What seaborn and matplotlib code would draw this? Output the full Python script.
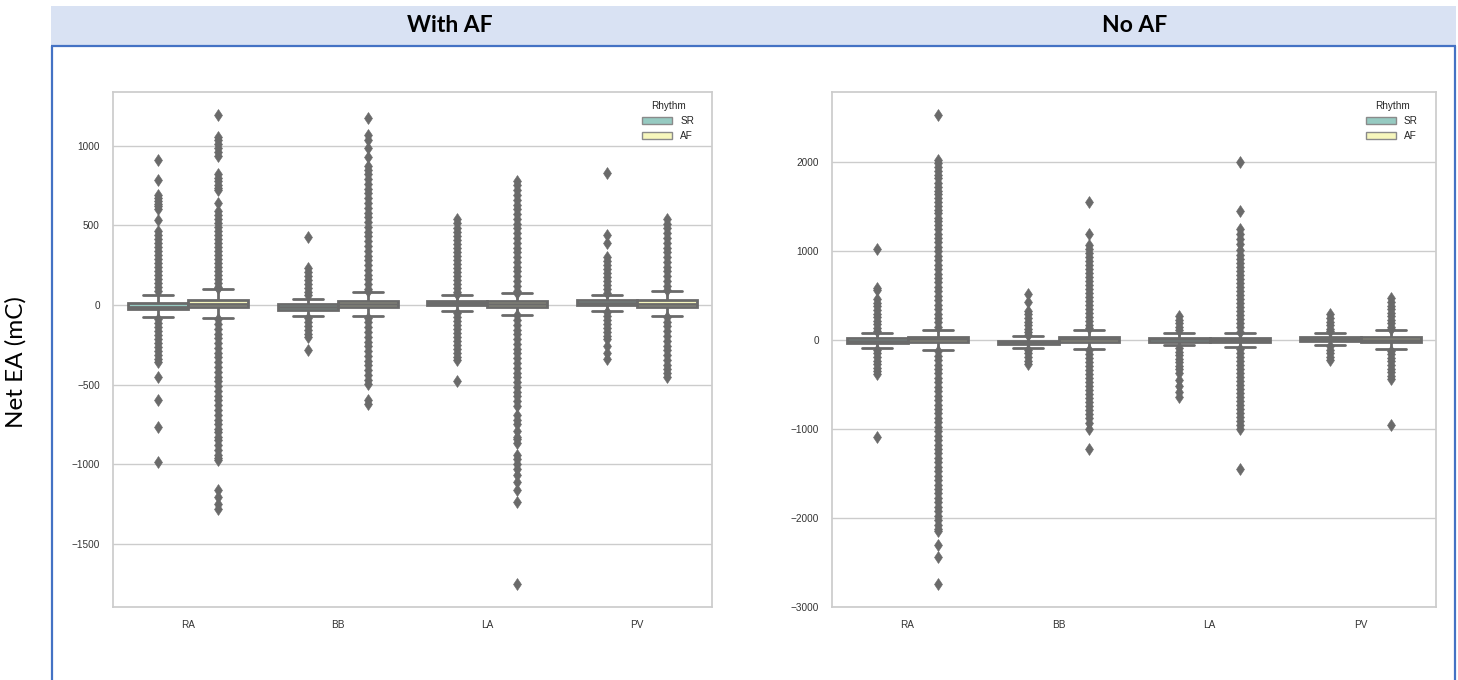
import numpy as np
import pandas as pd
import matplotlib
matplotlib.use("Agg")
import matplotlib.pyplot as plt
from matplotlib.patches import Rectangle
from matplotlib.lines import Line2D
import seaborn as sns

# ---------------------------------------------------------------- data
SITES = ["RA", "BB", "LA", "PV"]
RHYTHMS = ["SR", "AF"]
PANELS = ["With AF", "No AF"]

# Box summary per site (RA, BB, LA, PV): [lower whisker, Q1, median, Q3, upper whisker]
WITH_AF_SR_BOX = [[-75, -25, -12, 15, 65], [-70, -30, -12, 5, 40],
                  [-40, -3, 10, 25, 65], [-38, 2, 15, 30, 65]]
WITH_AF_AF_BOX = [[-84, -16, 6, 31, 100], [-72, -15, 3, 25, 80],
                  [-62, -12, 5, 22, 72], [-70, -12, 8, 30, 88]]
NO_AF_SR_BOX = [[-85, -30, -8, 22, 80], [-85, -45, -25, -5, 45],
                [-55, -15, 8, 30, 80], [-55, -5, 15, 35, 85]]
NO_AF_AF_BOX = [[-110, -25, 8, 40, 120], [-95, -20, 10, 40, 115],
                [-80, -25, 0, 20, 85], [-95, -25, 5, 35, 110]]

# Outlying observations (mC) per site
WITH_AF_SR_FLIERS = [
    [910, 785, 690, 672, 655, 635, 618, 600, 535, 462, 440, 415, 390, 365, 340,
     315, 290, 265, 240, 215, 190, 165, 140, 115, 90,
     -90, -115, -140, -165, -190, -215, -240, -265, -290, -315, -340, -360,
     -450, -595, -765, -985],
    [425, 230, 205, 180, 155, 130, 105, 80, 62,
     -85, -110, -135, -160, -180, -200, -280],
    [540, 512, 480, 455, 430, 405, 380, 355, 330, 305, 280, 255, 230, 205, 180,
     155, 130, 105, 80, 70,
     -50, -75, -100, -125, -150, -175, -200, -225, -250, -275, -300, -325,
     -345, -480],
    [830, 440, 390, 300, 275, 250, 225, 200, 175, 150, 125, 100, 75,
     -45, -70, -95, -120, -145, -170, -195, -215, -260, -300, -340],
]
WITH_AF_AF_FLIERS = [
    [1190, 1055, 1035, 1010, 985, 960, 932, 820, 800, 780, 755, 735, 720, 640,
     590, 565, 540, 515, 490, 465, 440, 415, 390, 365, 340, 315, 290, 265, 240,
     215, 190, 165, 140, 115, 105,
     -90, -120, -150, -180, -210, -240, -270, -300, -330, -360, -390, -420,
     -450, -480, -510, -540, -570, -600, -630, -660, -690, -720, -750, -780,
     -800, -830, -850, -880, -910, -940, -960, -975, -1160, -1205, -1250, -1280],
    [1175, 1065, 1035, 985, 930, 870, 850, 820, 790, 760, 730, 700, 670, 640,
     610, 580, 550, 520, 490, 460, 430, 400, 370, 340, 310, 280, 250, 220, 190,
     160, 130, 100, 88,
     -80, -110, -140, -170, -200, -230, -260, -290, -320, -350, -380, -410,
     -440, -470, -495, -600, -625],
    [780, 750, 720, 690, 660, 630, 600, 570, 540, 510, 480, 450, 420, 390, 360,
     330, 300, 270, 240, 210, 180, 150, 120, 90, 76,
     -66, -95, -125, -155, -185, -215, -245, -275, -305, -335, -365, -395,
     -425, -455, -485, -515, -545, -575, -605, -635, -690, -720, -750, -790,
     -830, -845, -870, -945, -970, -1000, -1030, -1065, -1110, -1165, -1240,
     -1750],
    [540, 510, 480, 450, 420, 390, 360, 330, 300, 270, 240, 210, 180, 150, 120,
     96,
     -78, -105, -135, -165, -195, -225, -255, -285, -315, -345, -375, -405,
     -430, -450],
]
NO_AF_SR_FLIERS = [
    [1030, 590, 560, 460, 420, 380, 340, 300, 260, 220, 180, 140, 105,
     -110, -150, -190, -230, -270, -310, -350, -385, -1090],
    [515, 435, 330, 290, 250, 210, 170, 130, 90, 60,
     -110, -150, -190, -230, -265],
    [270, 230, 190, 150, 110,
     -90, -130, -170, -210, -250, -290, -330, -370, -450, -520, -580, -640],
    [290, 250, 210, 170, 130, 100,
     -70, -110, -150, -190, -220],
]
NO_AF_AF_FLIERS = [
    [2530, 2030, 1990, 1950, 1900, 1860, 1820, 1770, 1720, 1680, 1640, 1600,
     1560, 1510, 1470, 1430, 1380, 1340, 1300, 1250, 1200, 1150, 1100, 1050,
     1000, 950, 900, 850, 800, 750, 700, 650, 600, 550, 500, 450, 400, 350,
     300, 250, 200, 145,
     -125, -175, -225, -275, -325, -375, -425, -475, -525, -575, -625, -675,
     -725, -775, -825, -875, -925, -975, -1025, -1075, -1125, -1175, -1225,
     -1275, -1325, -1375, -1425, -1475, -1525, -1575, -1625, -1675, -1725,
     -1775, -1825, -1875, -1925, -1975, -2025, -2075, -2120, -2150, -2305,
     -2445, -2740],
    [1560, 1190, 1070, 1025, 980, 935, 890, 845, 800, 755, 710, 665, 620, 575,
     530, 485, 440, 395, 350, 305, 260, 215, 175, 135,
     -115, -160, -205, -250, -295, -340, -385, -430, -475, -520, -565, -610,
     -655, -700, -745, -790, -830, -880, -930, -1000, -1220],
    [2000, 1450, 1250, 1200, 1140, 1080, 1020, 960, 915, 870, 825, 780, 735,
     690, 645, 600, 555, 510, 465, 420, 375, 330, 285, 240, 195, 150, 95,
     -95, -140, -185, -230, -275, -320, -365, -410, -455, -500, -545, -590,
     -635, -680, -725, -770, -815, -860, -905, -950, -1000, -1450],
    [470, 430, 390, 350, 310, 270, 230, 190, 150, 128,
     -120, -160, -200, -240, -280, -320, -360, -400, -435, -950],
]

BOXES = {("With AF", "SR"): WITH_AF_SR_BOX, ("With AF", "AF"): WITH_AF_AF_BOX,
         ("No AF", "SR"): NO_AF_SR_BOX, ("No AF", "AF"): NO_AF_AF_BOX}
FLIERS = {("With AF", "SR"): WITH_AF_SR_FLIERS, ("With AF", "AF"): WITH_AF_AF_FLIERS,
          ("No AF", "SR"): NO_AF_SR_FLIERS, ("No AF", "AF"): NO_AF_AF_FLIERS}


def group_sample(box, fliers, n=400):
    """Observations whose quartiles and whiskers reproduce the box summary."""
    lo, q1, med, q3, hi = box
    core = np.concatenate([[lo], np.full(n, q1), np.full(n, med),
                           np.full(n, q3), [hi]])
    return np.concatenate([core, np.asarray(fliers, dtype=float)])


frames = []
for (panel, rhythm), boxes in BOXES.items():
    for site, box, fl in zip(SITES, boxes, FLIERS[(panel, rhythm)]):
        vals = group_sample(box, fl)
        frames.append(pd.DataFrame({"Panel": panel, "Site": site,
                                    "Rhythm": rhythm, "EA": vals}))
df = pd.concat(frames, ignore_index=True)

# ---------------------------------------------------------------- style
sns.set_theme(style="whitegrid")
plt.rcParams["font.family"] = ["Liberation Sans", "DejaVu Sans"]
GRAY = "#6a6a6a"

W, H = 1458, 680
fig = plt.figure(figsize=(W / 100, H / 100), dpi=100)


def fx(x):
    return x / W


def fy(y):
    return 1 - y / H


# header band and frame
fig.add_artist(Rectangle((fx(51), fy(46)), fx(1456) - fx(51), fy(6) - fy(46),
                         transform=fig.transFigure, facecolor="#D9E2F3",
                         edgecolor="none", zorder=0))
BLUE = "#4472C4"
frame_kw = dict(transform=fig.transFigure, color=BLUE, linewidth=1.6,
                solid_capstyle="butt")
fig.add_artist(Line2D([fx(51), fx(1456)], [fy(46), fy(46)], **frame_kw))
fig.add_artist(Line2D([fx(52), fx(52)], [fy(46), fy(H)], **frame_kw))
fig.add_artist(Line2D([fx(1455), fx(1455)], [fy(46), fy(H)], **frame_kw))

head_kw = dict(ha="center", va="center", fontsize=16.5, fontweight="bold",
               family=["Lato", "DejaVu Sans"], color="black")
fig.text(fx(450), fy(25), "With AF", **head_kw)
fig.text(fx(1135), fy(25), "No AF", **head_kw)
fig.text(fx(16), fy(362), "Net EA (mC)", rotation=90, ha="center", va="center",
         fontsize=17.5, family=["Lato", "DejaVu Sans"], color="black")

# ---------------------------------------------------------------- panels
AX_BOUNDS = {"With AF": (113, 92, 712, 607), "No AF": (832, 92, 1436, 607)}

for panel in PANELS:
    x0, y0, x1, y1 = AX_BOUNDS[panel]
    ax = fig.add_axes([fx(x0), fy(y1), fx(x1) - fx(x0), fy(y0) - fy(y1)])
    sns.boxplot(data=df[df["Panel"] == panel], x="Site", y="EA",
                hue="Rhythm", order=SITES, hue_order=RHYTHMS,
                palette="Set3", saturation=0.75, linewidth=2,
                linecolor=GRAY, fliersize=6.5,
                flierprops=dict(marker="d", markerfacecolor=GRAY,
                                markeredgecolor=GRAY, markeredgewidth=0.4),
                ax=ax)
    ax.set_xlabel("")
    ax.set_ylabel("")
    ax.tick_params(labelsize=7.2, colors="#333333")
    for sp in ax.spines.values():
        sp.set_color("#cccccc")
    sns.move_legend(ax, "upper right", frameon=False, fontsize=7.2,
                    title_fontsize=7.2, handlelength=3.0,
                    bbox_to_anchor=(0.985, 1.0))
    for patch in ax.get_legend().get_patches():
        patch.set_linewidth(1.0)
        patch.set_edgecolor("#8a8a8a")

fig.savefig("out.png", dpi=100, facecolor="white")
